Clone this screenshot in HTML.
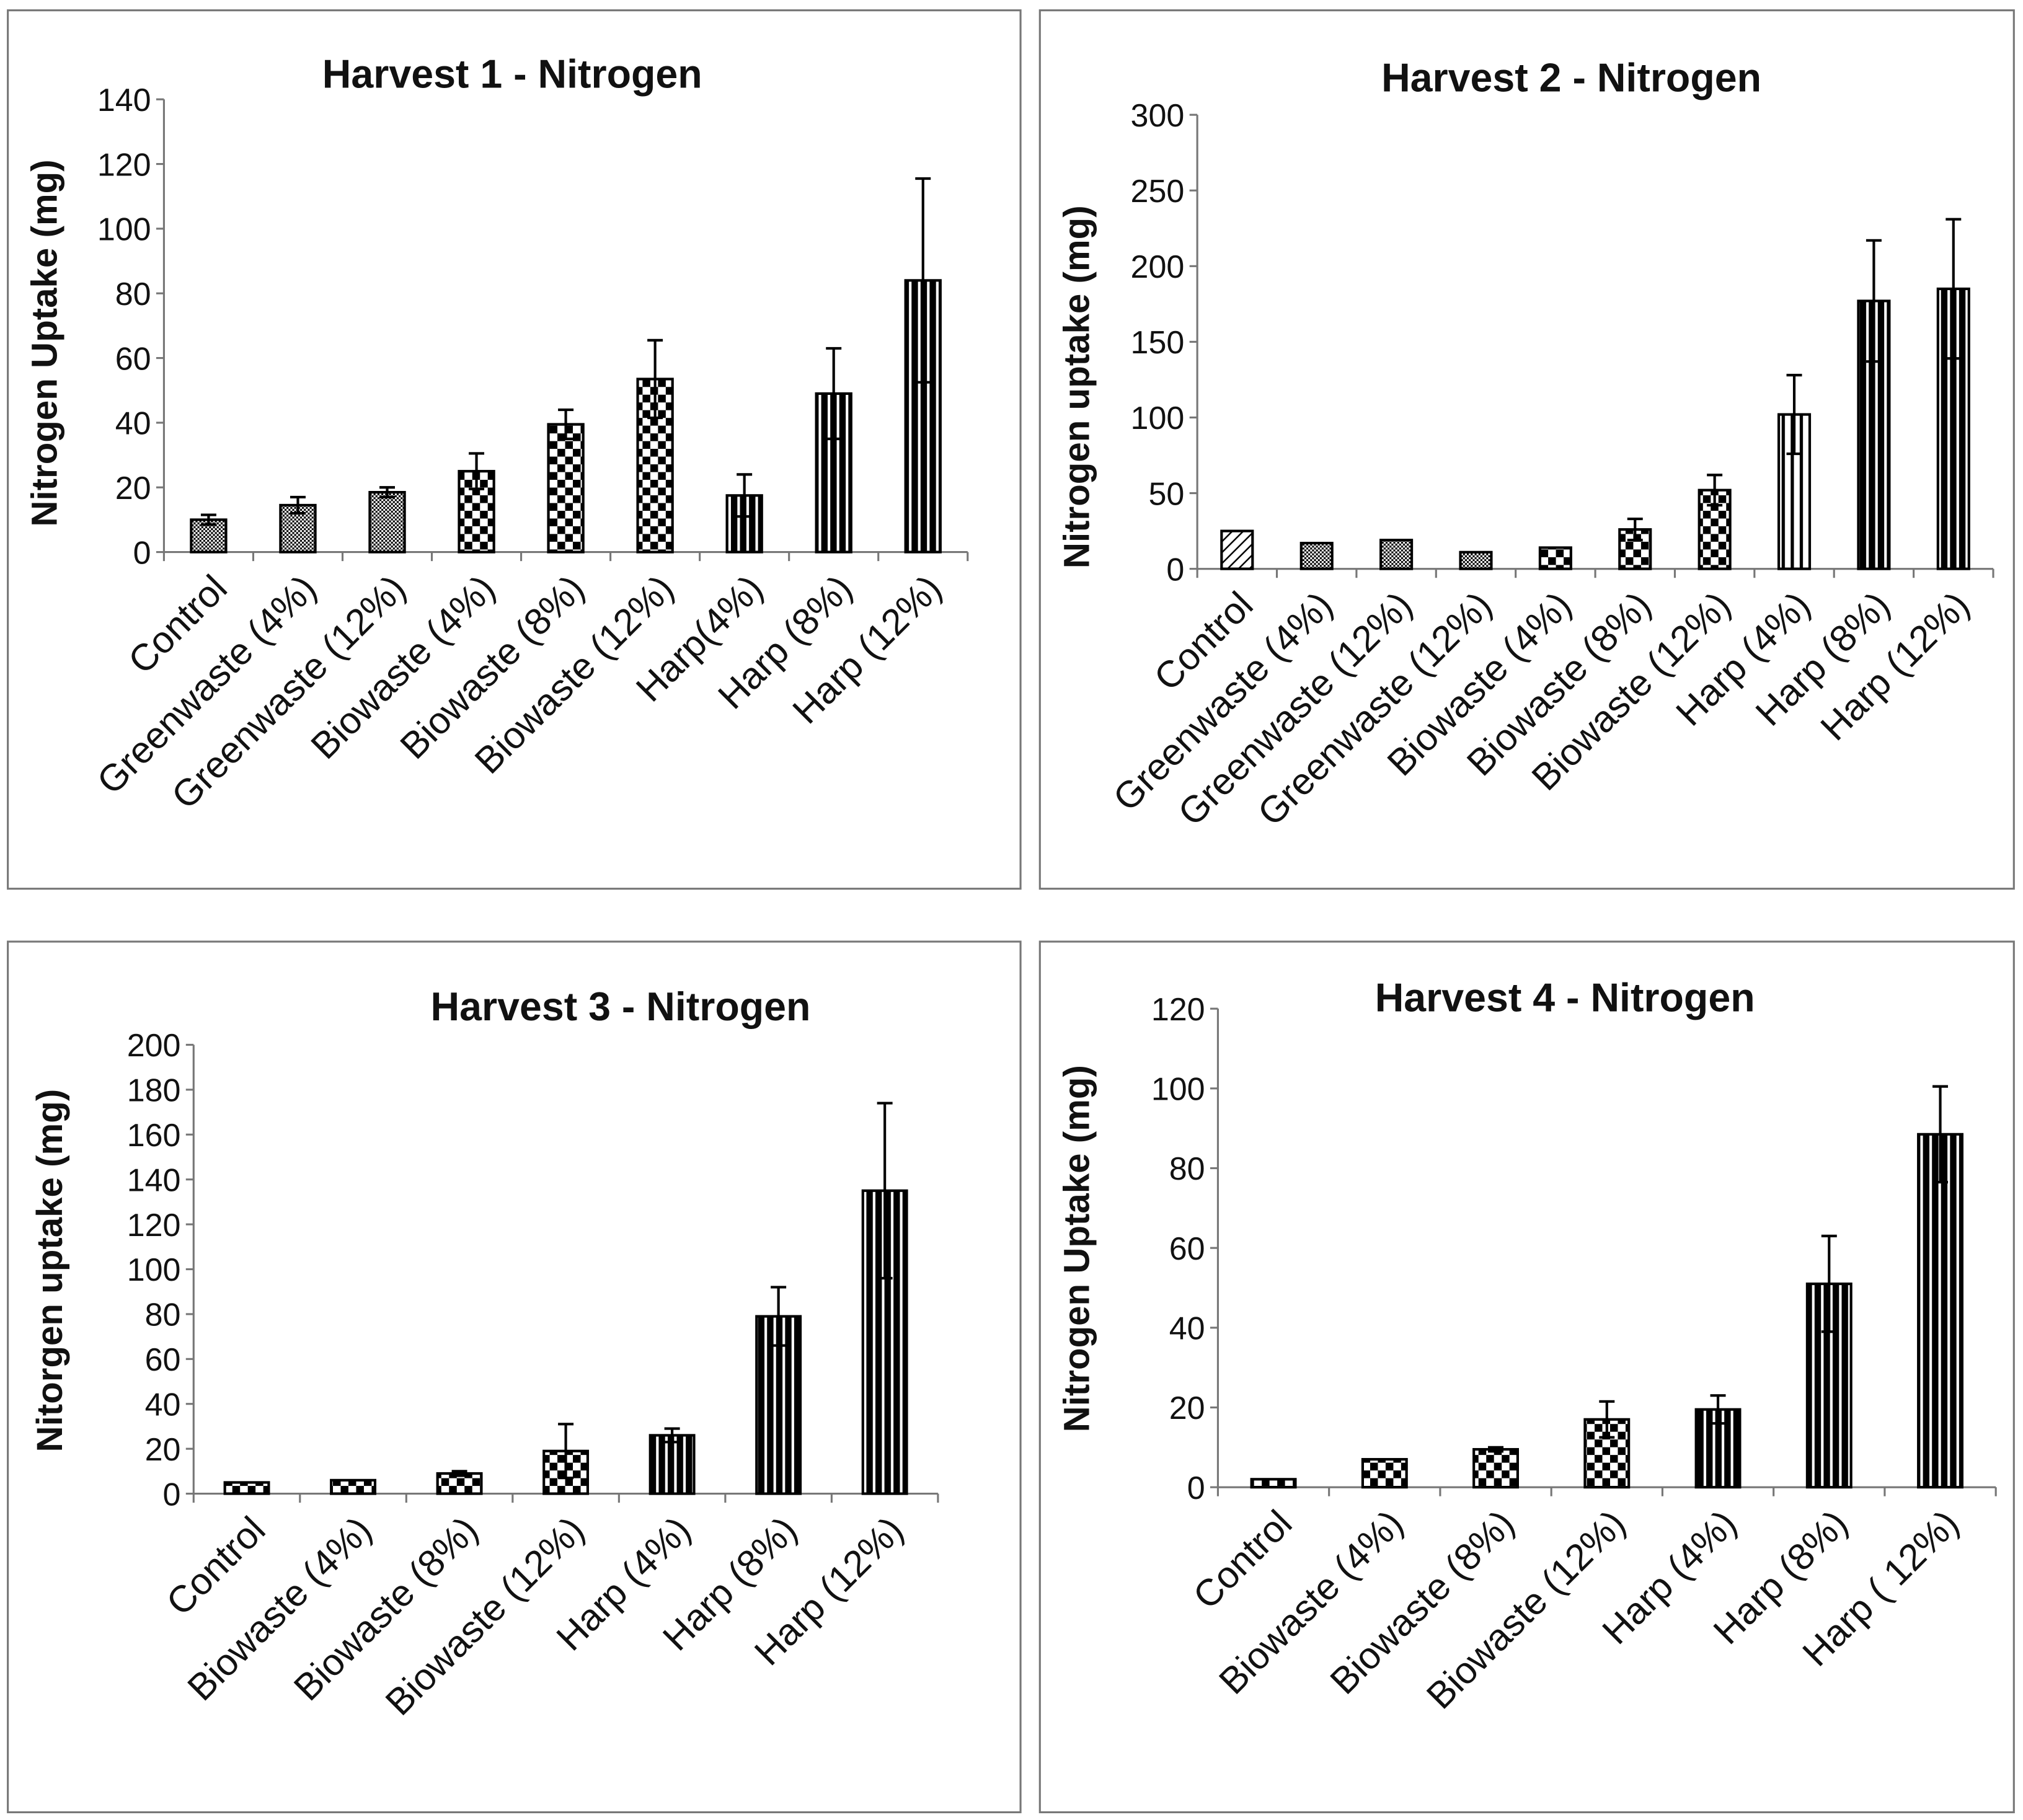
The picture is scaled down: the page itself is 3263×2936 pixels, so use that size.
<!DOCTYPE html>
<html><head><meta charset="utf-8">
<style>
html,body{margin:0;padding:0;background:#fff;}
svg{display:block;}
text{font-family:"Liberation Sans","DejaVu Sans",sans-serif;fill:#111;}
</style></head>
<body>
<svg id="fig" width="3263" height="2936" viewBox="0 0 1568 1411" xmlns="http://www.w3.org/2000/svg">
<defs>
 <pattern id="p-dot" patternUnits="userSpaceOnUse" width="3" height="3"><rect width="3" height="3" fill="#fff"/><rect width="1.5" height="1.5" fill="#000"/><rect x="1.5" y="1.5" width="1.5" height="1.5" fill="#000"/></pattern>
 <pattern id="p-check" patternUnits="userSpaceOnUse" width="12" height="12"><rect width="12" height="12" fill="#fff"/><rect width="6" height="6" fill="#000"/><rect x="6" y="6" width="6" height="6" fill="#000"/></pattern>
 <pattern id="p-stripe" patternUnits="userSpaceOnUse" width="7" height="7"><rect width="7" height="7" fill="#000"/><rect x="4.5" width="2" height="7" fill="#fff"/></pattern>
 <pattern id="p-stripe-open" patternUnits="userSpaceOnUse" width="7" height="7"><rect width="7" height="7" fill="#fff"/><rect x="2" width="2.5" height="7" fill="#000"/></pattern>
 <pattern id="p-diag" patternUnits="userSpaceOnUse" width="6" height="6" patternTransform="rotate(45)"><rect width="6" height="6" fill="#fff"/><rect width="1.2" height="6" fill="#000"/></pattern>
</defs>
<g id="root"></g>
</svg>
<script>
// ---- Harvest 1 ----
const h1Categories = ["Control","Greenwaste (4%)","Greenwaste (12%)","Biowaste (4%)","Biowaste (8%)","Biowaste (12%)","Harp(4%)","Harp (8%)","Harp  (12%)"];
const h1Values = [10, 14.5, 18.5, 25, 39.5, 53.5, 17.5, 49, 84];
const h1ErrTop = [11.5, 17, 20, 30.5, 44, 65.5, 24, 63, 115.5];
const h1Patterns = ["dot","dot","dot","check","check","check","stripe","stripe","stripe"];
const h1Ticks = [0,20,40,60,80,100,120,140];
// ---- Harvest 2 ----
const h2Categories = ["Control","Greenwaste (4%)","Greenwaste (12%)","Greenwaste (12%)","Biowaste (4%)","Biowaste (8%)","Biowaste (12%)","Harp (4%)","Harp (8%)","Harp (12%)"];
const h2Values = [25, 17, 19, 11, 14, 26, 52, 102, 177, 185];
const h2ErrTop = [25, 17, 19, 11, 14, 33, 62, 128, 217, 231];
const h2Patterns = ["diag","dot","dot","dot","check","check","check","stripe-open","stripe","stripe"];
const h2Ticks = [0,50,100,150,200,250,300];
// ---- Harvest 3 ----
const h3Categories = ["Control","Biowaste (4%)","Biowaste (8%)","Biowaste (12%)","Harp  (4%)","Harp (8%)","Harp (12%)"];
const h3Values = [5, 6, 9, 19, 26, 79, 135];
const h3ErrTop = [5, 6, 10, 31, 29, 92, 174];
const h3Patterns = ["check","check","check","check","stripe","stripe","stripe"];
const h3Ticks = [0,20,40,60,80,100,120,140,160,180,200];
// ---- Harvest 4 ----
const h4Categories = ["Control","Biowaste (4%)","Biowaste (8%)","Biowaste (12%)","Harp (4%)","Harp (8%)","Harp ( 12%)"];
const h4Values = [2, 7, 9.5, 17, 19.5, 51, 88.5];
const h4ErrTop = [2, 7, 10, 21.5, 23, 63, 100.5];
const h4Patterns = ["check","check","check","check","stripe","stripe","stripe"];
const h4Ticks = [0,20,40,60,80,100,120];

const NS = "http://www.w3.org/2000/svg";
const root = document.getElementById("root");
function mk(tag, attrs, parent){
  const e = document.createElementNS(NS, tag);
  for (const k in attrs) e.setAttribute(k, attrs[k]);
  (parent||root).appendChild(e);
  return e;
}

function drawPanel(p, cats, vals, errs, pats, ticks){
  const g = mk("g", {});
  
  
  const fr = mk("rect", {x:p.fx, y:p.fy, width:p.fw, height:p.fh, fill:"#fff", stroke:"#777", "stroke-width":1.5}, g);
  
  
  const t = mk("text", {x:p.tx, y:p.ty, "text-anchor":"middle", "font-size":31, "font-weight":"bold"}, g);
  t.textContent = p.title;
  
  
  const yt = mk("text", {x:0, y:0, "text-anchor":"middle", "font-size":28, "font-weight":"bold", transform:`translate(${p.yx},${p.yy}) rotate(-90)`}, g);
  yt.textContent = p.ytitle;
  
  
  const ymax = ticks[ticks.length-1];
  const yS = v => p.y0 - (v/ymax)*(p.y0 - p.yTop);
  const n = cats.length;
  const cw = (p.x1 - p.x0)/n;
  const xC = i => p.x0 + cw*(i+0.5);
  mk("line", {x1:p.x0, y1:p.yTop, x2:p.x0, y2:p.y0, stroke:"#777", "stroke-width":1.5}, g);
  ticks.forEach(tv=>{
    const y = yS(tv);
    mk("line", {x1:p.x0-6, y1:y, x2:p.x0, y2:y, stroke:"#777", "stroke-width":1.5}, g);
    const tl = mk("text", {x:p.x0-10, y:y+9, "text-anchor":"end", "font-size":25}, g);
    tl.textContent = tv;
    
    
  });
  mk("line", {x1:p.x0, y1:p.y0, x2:p.x1, y2:p.y0, stroke:"#777", "stroke-width":1.5}, g);
  for (let i=0;i<=n;i++){
    const x = p.x0 + cw*i;
    mk("line", {x1:x, y1:p.y0, x2:x, y2:p.y0+7, stroke:"#777", "stroke-width":1.5}, g);
  }
  cats.forEach((c,i)=>{
    const cx = xC(i);
    const bw = p.bw;
    const yv = yS(vals[i]);
    const b = mk("rect", {x:cx-bw/2, y:yv, width:bw, height:p.y0-yv, fill:`url(#p-${pats[i]})`, stroke:"#000", "stroke-width":2}, g);
    
    
    if (errs[i] > vals[i] + 0.01){
      const d = errs[i]-vals[i];
      const yt2 = yS(errs[i]), yb = yS(Math.max(0, vals[i]-d));
      const eb = mk("path", {d:`M${cx},${yt2}V${yb}M${cx-6},${yt2}H${cx+6}M${cx-6},${yb}H${cx+6}`, stroke:"#000", "stroke-width":2, fill:"none"}, g);
      
      
    }
    const lx = cx + p.lo, ly = p.y0 + 30;
    const lab = mk("text", {x:0, y:0, "text-anchor":"end", "font-size":p.lf, transform:`translate(${lx},${ly}) rotate(-45)`}, g);
    lab.textContent = c;
    
    
  });
}

drawPanel({name:"harvest-1-chart", fx:6, fy:8, fw:785, fh:681, title:"Harvest 1 - Nitrogen", tx:397, ty:68, ytitle:"Nitrogen Uptake (mg)", yx:44, yy:266, x0:127, x1:750, y0:428, yTop:77, bw:27, lo:16, lf:29}, h1Categories, h1Values, h1ErrTop, h1Patterns, h1Ticks);
drawPanel({name:"harvest-2-chart", fx:806, fy:8, fw:755, fh:681, title:"Harvest 2 - Nitrogen", tx:1218, ty:71, ytitle:"Nitrogen uptake (mg)", yx:844, yy:300, x0:928, x1:1545, y0:441, yTop:89, bw:24, lo:14, lf:29}, h2Categories, h2Values, h2ErrTop, h2Patterns, h2Ticks);
drawPanel({name:"harvest-3-chart", fx:6, fy:730, fw:785, fh:675, title:"Harvest 3 - Nitrogen", tx:481, ty:791, ytitle:"Nitorgen uptake (mg)", yx:48, yy:985, x0:150, x1:727, y0:1158, yTop:810, bw:34, lo:16, lf:29}, h3Categories, h3Values, h3ErrTop, h3Patterns, h3Ticks);
drawPanel({name:"harvest-4-chart", fx:806, fy:730, fw:755, fh:675, title:"Harvest 4 - Nitrogen", tx:1213, ty:784, ytitle:"Nitrogen Uptake (mg)", yx:844, yy:968, x0:944, x1:1547, y0:1153, yTop:782, bw:34, lo:16, lf:29}, h4Categories, h4Values, h4ErrTop, h4Patterns, h4Ticks);
</script>
</body></html>
